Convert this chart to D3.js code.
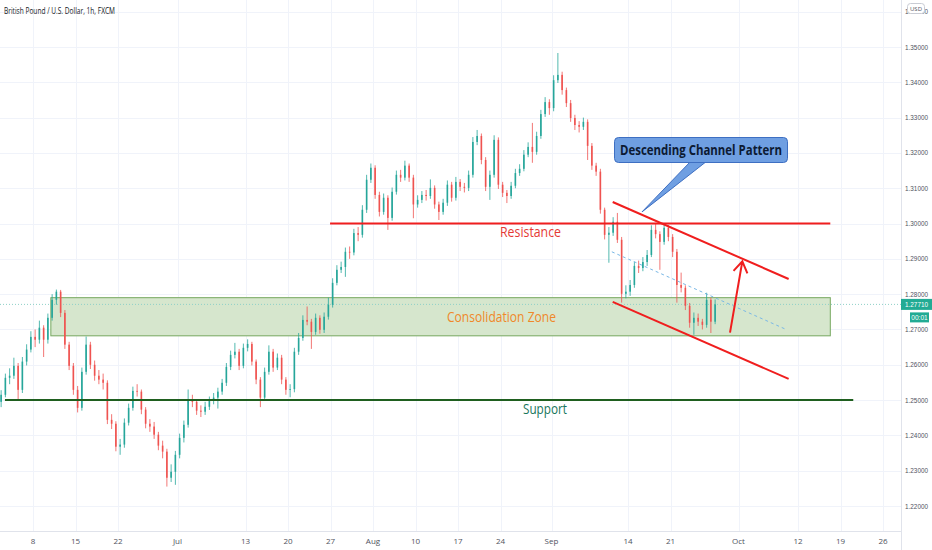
<!DOCTYPE html>
<html>
<head>
<meta charset="utf-8">
<script src="https://cdn.jsdelivr.net/npm/d3@7"></script>
<style>
  html, body { margin: 0; padding: 0; background: #ffffff; }
  svg { display: block; }
</style>
</head>
<body>
<div id="chart"></div>
<script>
// GBP/USD, half-day bars (first bar = Tue 2 Jun)
const firstOpen = 1.2495;
const closes = [
  1.2515, 1.2563, 1.2569, 1.2597, 1.2529, 1.2609, 1.2643, 1.2679, 1.2671, 1.2705,
  1.2671, 1.2733, 1.2784, 1.2807, 1.2747, 1.2657, 1.2597, 1.2529, 1.2478, 1.2580,
  1.2657, 1.2600, 1.2569, 1.2558, 1.2549, 1.2444, 1.2433, 1.2368, 1.2374, 1.2436,
  1.2478, 1.2526, 1.2524, 1.2473, 1.2433, 1.2425, 1.2402, 1.2371, 1.2354, 1.2280,
  1.2297, 1.2345, 1.2393, 1.2430, 1.2501, 1.2495, 1.2470, 1.2467, 1.2481, 1.2498,
  1.2507, 1.2524, 1.2549, 1.2594, 1.2628, 1.2637, 1.2597, 1.2648, 1.2659, 1.2609,
  1.2558, 1.2507, 1.2580, 1.2637, 1.2592, 1.2620, 1.2558, 1.2529, 1.2531, 1.2637,
  1.2676, 1.2727, 1.2722, 1.2693, 1.2733, 1.2699, 1.2736, 1.2770, 1.2832, 1.2869,
  1.2877, 1.2920, 1.2918, 1.2973, 1.2968, 1.3039, 1.3124, 1.3158, 1.3081, 1.3033,
  1.3073, 1.3016, 1.3090, 1.3138, 1.3130, 1.3164, 1.3130, 1.3054, 1.3067, 1.3081,
  1.3078, 1.3101, 1.3054, 1.3033, 1.3059, 1.3110, 1.3073, 1.3118, 1.3104, 1.3101,
  1.3138, 1.3231, 1.3248, 1.3180, 1.3104, 1.3138, 1.3237, 1.3110, 1.3087, 1.3078,
  1.3107, 1.3143, 1.3155, 1.3195, 1.3217, 1.3203, 1.3248, 1.3310, 1.3344, 1.3327,
  1.3406, 1.3421, 1.3378, 1.3341, 1.3299, 1.3279, 1.3274, 1.3288, 1.3220, 1.3164,
  1.3147, 1.3039, 1.2968, 1.2974, 1.3005, 1.2954, 1.2801, 1.2807, 1.2826, 1.2880,
  1.2874, 1.2891, 1.2911, 1.2982, 1.2970, 1.2948, 1.2988, 1.2962, 1.2920, 1.2826,
  1.2818, 1.2767, 1.2719, 1.2733, 1.2722, 1.2713, 1.2784, 1.2722, 1.2771
];
const highs = [
  1.2528, 1.2575, 1.2590, 1.2620, 1.2605, 1.2622, 1.2658, 1.2695, 1.2700, 1.2725,
  1.2712, 1.2745, 1.2800, 1.2813, 1.2812, 1.2755, 1.2665, 1.2605, 1.2540, 1.2592,
  1.2680, 1.2665, 1.2612, 1.2585, 1.2575, 1.2556, 1.2460, 1.2440, 1.2390, 1.2448,
  1.2490, 1.2538, 1.2545, 1.2530, 1.2480, 1.2446, 1.2438, 1.2410, 1.2385, 1.2362,
  1.2318, 1.2356, 1.2405, 1.2442, 1.2530, 1.2515, 1.2502, 1.2485, 1.2495, 1.2510,
  1.2520, 1.2535, 1.2560, 1.2605, 1.2640, 1.2662, 1.2645, 1.2660, 1.2672, 1.2665,
  1.2615, 1.2565, 1.2592, 1.2655, 1.2645, 1.2632, 1.2628, 1.2565, 1.2545, 1.2648,
  1.2690, 1.2740, 1.2765, 1.2730, 1.2745, 1.2740, 1.2748, 1.2790, 1.2845, 1.2882,
  1.2892, 1.2932, 1.2935, 1.2985, 1.2990, 1.3052, 1.3138, 1.3170, 1.3165, 1.3090,
  1.3085, 1.3080, 1.3102, 1.3150, 1.3152, 1.3178, 1.3170, 1.3138, 1.3080, 1.3092,
  1.3095, 1.3125, 1.3108, 1.3062, 1.3070, 1.3122, 1.3118, 1.3132, 1.3126, 1.3115,
  1.3150, 1.3245, 1.3265, 1.3255, 1.3188, 1.3150, 1.3250, 1.3244, 1.3118, 1.3095,
  1.3118, 1.3155, 1.3168, 1.3208, 1.3230, 1.3285, 1.3260, 1.3322, 1.3358, 1.3352,
  1.3420, 1.3483, 1.3430, 1.3385, 1.3350, 1.3308, 1.3290, 1.3300, 1.3295, 1.3228,
  1.3172, 1.3155, 1.3045, 1.2990, 1.3018, 1.3030, 1.2962, 1.2825, 1.2840, 1.2892,
  1.2895, 1.2905, 1.2925, 1.2995, 1.3002, 1.2978, 1.3000, 1.2996, 1.2970, 1.2928,
  1.2861, 1.2825, 1.2775, 1.2748, 1.2745, 1.2730, 1.2804, 1.2790, 1.2785
];
const lows = [
  1.2480, 1.2508, 1.2545, 1.2560, 1.2501, 1.2520, 1.2598, 1.2635, 1.2650, 1.2660,
  1.2622, 1.2660, 1.2725, 1.2770, 1.2735, 1.2645, 1.2585, 1.2515, 1.2465, 1.2470,
  1.2572, 1.2588, 1.2555, 1.2545, 1.2530, 1.2432, 1.2418, 1.2355, 1.2345, 1.2365,
  1.2428, 1.2470, 1.2510, 1.2460, 1.2420, 1.2410, 1.2390, 1.2358, 1.2335, 1.2255,
  1.2268, 1.2260, 1.2335, 1.2380, 1.2422, 1.2480, 1.2458, 1.2452, 1.2458, 1.2472,
  1.2488, 1.2476, 1.2515, 1.2540, 1.2585, 1.2618, 1.2585, 1.2590, 1.2638, 1.2598,
  1.2545, 1.2480, 1.2500, 1.2572, 1.2580, 1.2585, 1.2545, 1.2515, 1.2508, 1.2522,
  1.2628, 1.2668, 1.2712, 1.2645, 1.2685, 1.2688, 1.2690, 1.2728, 1.2762, 1.2825,
  1.2860, 1.2849, 1.2900, 1.2910, 1.2950, 1.2960, 1.3030, 1.3115, 1.3070, 1.3020,
  1.3025, 1.2982, 1.3008, 1.3082, 1.3118, 1.3122, 1.3118, 1.3015, 1.3045, 1.3058,
  1.3065, 1.3070, 1.3042, 1.3010, 1.3025, 1.3050, 1.3062, 1.3065, 1.3092, 1.3088,
  1.3092, 1.3130, 1.3222, 1.3168, 1.3092, 1.3067, 1.3130, 1.3098, 1.3075, 1.3058,
  1.3070, 1.3100, 1.3135, 1.3148, 1.3188, 1.3172, 1.3195, 1.3240, 1.3302, 1.3308,
  1.3318, 1.3398, 1.3365, 1.3330, 1.3288, 1.3265, 1.3258, 1.3265, 1.3180, 1.3152,
  1.3135, 1.3028, 1.2955, 1.2889, 1.2965, 1.2945, 1.2776, 1.2788, 1.2795, 1.2818,
  1.2860, 1.2865, 1.2880, 1.2905, 1.2958, 1.2869, 1.2940, 1.2950, 1.2905, 1.2776,
  1.2805, 1.2755, 1.2705, 1.2685, 1.2710, 1.2700, 1.2705, 1.2690, 1.2715
];
const firstBarDay = 1;      // trading-day index of the first bar (Mon 1 Jun = 0)
const barsPerDay = 2;

// x-axis labels with their trading-day index
const tickLabels = ["8", "15", "22", "Jul", "13", "20", "27", "Aug", "10", "17", "24", "Sep", "14", "21", "Oct", "12", "19", "26"];
const tickDays   = [5, 10, 15, 22, 30, 35, 40, 45, 50, 55, 60, 66, 75, 80, 88, 95, 100, 105];
const priceTicks = [1.22, 1.23, 1.24, 1.25, 1.26, 1.27, 1.28, 1.29, 1.30, 1.31, 1.32, 1.33, 1.34, 1.35, 1.36];
const lastPrice = 1.2771;

// Drawings on the chart (trading day, price)
const zone = { d0: 7.1, d1: 98.8, top: 1.2790, bottom: 1.2682 };
const resistance = { d0: 39.95, d1: 98.8, price: 1.3000 };
const support = { d0: 1.7, d1: 101.5, price: 1.2500 };
const channelTop = [[73.2, 1.3061], [93.9, 1.2843]];
const channelBottom = [[73.2, 1.2778], [93.9, 1.2560]];
const midLine = [[73.1, 1.2920], [93.7, 1.2699]];
const arrow = [[87.0, 1.2691], [88.45, 1.2893]];

const W = 932, H = 550;
const plotW = 901, plotH = 531;

const svg = d3.select("#chart").append("svg")
  .attr("width", W).attr("height", H)
  .style("font-family", "'Open Sans', sans-serif");

const x = d3.scaleLinear().domain([0, 106]).range([-9.5, -9.5 + 901]);
const y = d3.scaleLinear().domain([1.22, 1.35]).range([506, 47]);

// Grid
const grid = svg.append("g");
grid.selectAll("line.h").data(priceTicks).join("line")
  .attr("x1", 0).attr("x2", plotW)
  .attr("y1", d => Math.round(y(d)) + 0.5).attr("y2", d => Math.round(y(d)) + 0.5)
  .attr("stroke", "#f0f3fa");
grid.selectAll("line.v").data(tickDays).join("line")
  .attr("x1", d => Math.round(x(d)) + 0.5).attr("x2", d => Math.round(x(d)) + 0.5)
  .attr("y1", 0).attr("y2", plotH)
  .attr("stroke", "#f0f3fa");

// Axes frame
svg.append("line").attr("x1", plotW + 0.5).attr("x2", plotW + 0.5).attr("y1", 0).attr("y2", H)
  .attr("stroke", "#e0e3eb");
svg.append("line").attr("x1", 0).attr("x2", plotW).attr("y1", plotH + 0.5).attr("y2", plotH + 0.5)
  .attr("stroke", "#e0e3eb");

// Consolidation zone
svg.append("rect")
  .attr("x", x(zone.d0)).attr("y", y(zone.top))
  .attr("width", x(zone.d1) - x(zone.d0)).attr("height", y(zone.bottom) - y(zone.top))
  .attr("fill", "#d6e6cd").attr("stroke", "#76a85f").attr("stroke-width", 1);

// Current price line
svg.append("line")
  .attr("x1", 0).attr("x2", plotW)
  .attr("y1", y(lastPrice)).attr("y2", y(lastPrice))
  .attr("stroke", "#8fd0c7").attr("stroke-width", 1).attr("stroke-dasharray", "1,2");

// Candles
const bars = closes.map((c, i) => ({
  day: firstBarDay + (i + 0.5) / barsPerDay,
  open: i === 0 ? firstOpen : closes[i - 1],
  close: c,
  high: highs[i],
  low: lows[i]
}));
const up = "#26a69a", down = "#ef5350";
const candles = svg.append("g").selectAll("g").data(bars).join("g");
candles.append("line")
  .attr("x1", d => x(d.day)).attr("x2", d => x(d.day))
  .attr("y1", d => y(d.high)).attr("y2", d => y(d.low))
  .attr("stroke", d => d.close >= d.open ? up : down).attr("stroke-width", 0.8);
candles.append("rect")
  .attr("x", d => x(d.day) - 0.8).attr("width", 1.6)
  .attr("y", d => y(Math.max(d.open, d.close)))
  .attr("height", d => Math.max(0.8, Math.abs(y(d.open) - y(d.close))))
  .attr("fill", d => d.close >= d.open ? up : down);

// Resistance / support
svg.append("line")
  .attr("x1", x(resistance.d0)).attr("x2", x(resistance.d1))
  .attr("y1", y(resistance.price)).attr("y2", y(resistance.price))
  .attr("stroke", "#f01e1e").attr("stroke-width", 2);
svg.append("line")
  .attr("x1", x(support.d0)).attr("x2", x(support.d1))
  .attr("y1", y(support.price)).attr("y2", y(support.price))
  .attr("stroke", "#1f5f1f").attr("stroke-width", 2);

// Descending channel
const line = d3.line().x(d => x(d[0])).y(d => y(d[1]));
svg.append("path").attr("d", line(channelTop)).attr("stroke", "#f01e1e").attr("stroke-width", 2).attr("fill", "none");
svg.append("path").attr("d", line(channelBottom)).attr("stroke", "#f01e1e").attr("stroke-width", 2).attr("fill", "none");
svg.append("path").attr("d", line(midLine)).attr("stroke", "#7ab8e6").attr("stroke-width", 1)
  .attr("stroke-dasharray", "3,3").attr("fill", "none");

// Arrow
const [a0, a1] = arrow.map(p => [x(p[0]), y(p[1])]);
const ang = Math.atan2(a1[1] - a0[1], a1[0] - a0[0]);
const headLen = 13, headAng = Math.PI / 5.5;
svg.append("path")
  .attr("d", `M${a0[0]},${a0[1]}L${a1[0]},${a1[1]}` +
    `M${a1[0] - headLen * Math.cos(ang - headAng)},${a1[1] - headLen * Math.sin(ang - headAng)}` +
    `L${a1[0]},${a1[1]}` +
    `L${a1[0] - headLen * Math.cos(ang + headAng)},${a1[1] - headLen * Math.sin(ang + headAng)}`)
  .attr("stroke", "#f01e1e").attr("stroke-width", 2).attr("fill", "none")
  .attr("stroke-linejoin", "miter");

// Labels
function label(text, cx, baseline, size, color, len, weight) {
  svg.append("text")
    .attr("x", cx).attr("y", baseline)
    .attr("text-anchor", "middle")
    .attr("font-size", size)
    .attr("font-weight", weight || "normal")
    .attr("fill", color)
    .attr("textLength", len).attr("lengthAdjust", "spacingAndGlyphs")
    .text(text);
}
label("Resistance", 530.5, 237, 14, "#e53935", 61);
label("Consolidation Zone", 501.5, 322, 15, "#f0882a", 109);
label("Support", 545, 414, 14, "#17765c", 44);

// Callout
const tip = [x(76.65), y(1.3033)];
svg.append("path")
  .attr("d", `M691,161L${tip[0]},${tip[1]}L707,161Z`)
  .attr("fill", "#6f9fe2").attr("stroke", "#3e6fc2").attr("stroke-width", 1);
svg.append("rect")
  .attr("x", 614.5).attr("y", 137.5).attr("width", 173).attr("height", 25).attr("rx", 4)
  .attr("fill", "#6f9fe2").attr("stroke", "#3e6fc2").attr("stroke-width", 1);
svg.append("rect")
  .attr("x", 690).attr("y", 158).attr("width", 18).attr("height", 4)
  .attr("fill", "#6f9fe2");
label("Descending Channel Pattern", 701, 155, 14, "#0c1a33", 162, "bold");

// Price axis (1.36000 sits under the USD badge, as in the original)
const axisText = svg.append("g")
  .attr("font-size", 7).attr("fill", "#50535e")
  .style("font-family", "'Liberation Sans', sans-serif");
axisText.selectAll("text").data(priceTicks).join("text")
  .attr("x", 905).attr("y", d => y(d) + 2.5)
  .attr("textLength", 23).attr("lengthAdjust", "spacingAndGlyphs")
  .text(d => d.toFixed(5));

// USD badge
svg.append("rect").attr("x", 907.5).attr("y", 3.5).attr("width", 17).attr("height", 10).attr("rx", 3)
  .attr("fill", "#ffffff").attr("stroke", "#c9ccd4");
svg.append("text").attr("x", 916).attr("y", 10.5).attr("text-anchor", "middle")
  .attr("font-size", 6).attr("fill", "#50535e").text("USD");

// Last price badges
svg.append("rect").attr("x", 901).attr("y", y(lastPrice) - 5.5).attr("width", 31).attr("height", 11)
  .attr("fill", "#22ab94");
svg.append("text").attr("x", 905).attr("y", y(lastPrice) + 2.5)
  .attr("font-size", 7).attr("fill", "#ffffff")
  .style("font-family", "'Liberation Sans', sans-serif")
  .attr("textLength", 23).attr("lengthAdjust", "spacingAndGlyphs")
  .text(lastPrice.toFixed(5));
svg.append("rect").attr("x", 910).attr("y", y(lastPrice) + 8).attr("width", 19).attr("height", 10)
  .attr("fill", "#22ab94");
svg.append("text").attr("x", 919.5).attr("y", y(lastPrice) + 15.5).attr("text-anchor", "middle")
  .attr("font-size", 6.5).attr("fill", "#ffffff")
  .style("font-family", "'Liberation Sans', sans-serif")
  .text("00:01");

// Time axis
svg.append("g").attr("font-size", 8).attr("fill", "#50535e")
  .selectAll("text").data(tickDays).join("text")
  .attr("x", d => x(d)).attr("y", 544)
  .attr("text-anchor", "middle")
  .text((d, i) => tickLabels[i]);

// Title
svg.append("text").attr("x", 4).attr("y", 14)
  .attr("font-size", 9).attr("fill", "#131722")
  .attr("textLength", 111).attr("lengthAdjust", "spacingAndGlyphs")
  .text("British Pound / U.S. Dollar, 1h, FXCM");
</script>
</body>
</html>
